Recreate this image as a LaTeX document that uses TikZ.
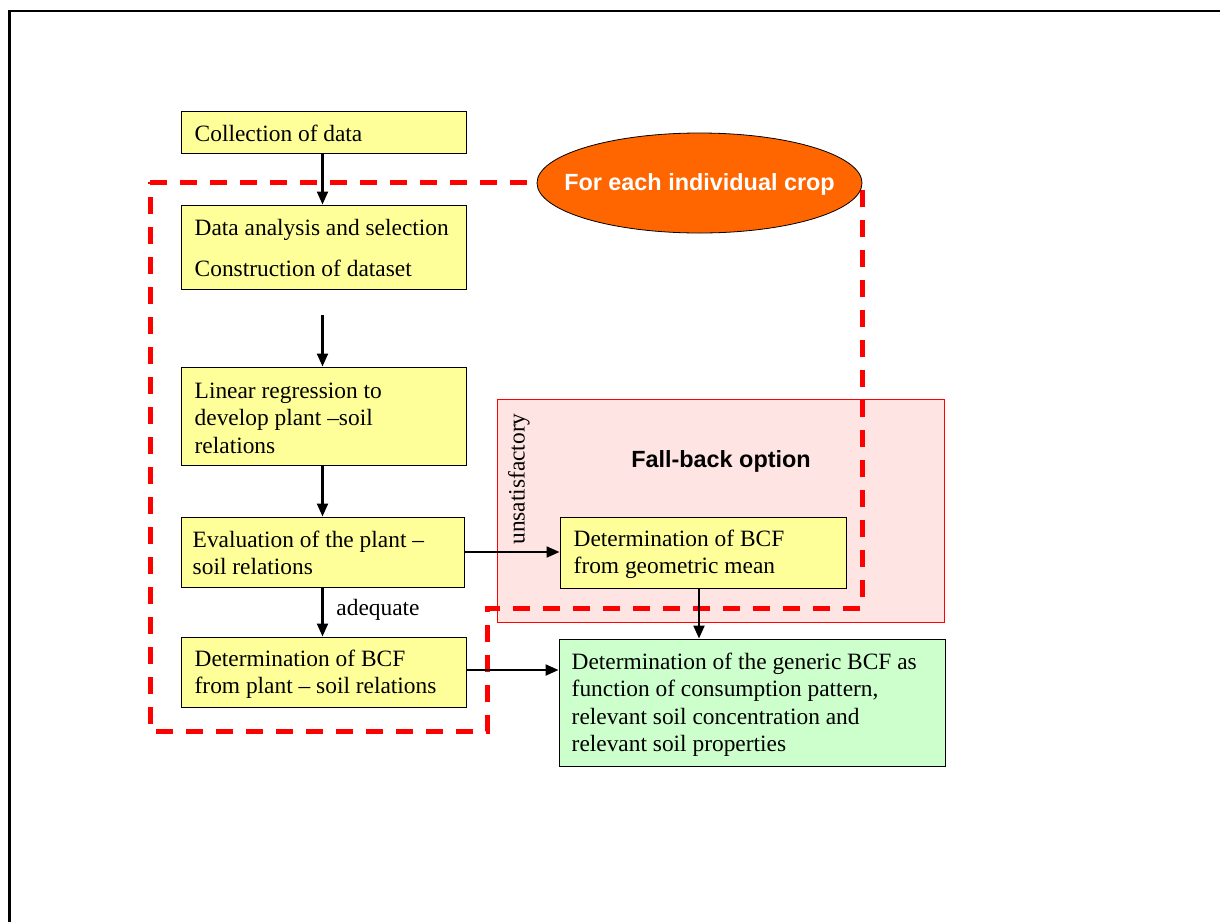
\documentclass[tikz,border=0pt]{standalone}
\usepackage{fontspec}
\setmainfont{Liberation Serif}
\newfontfamily\arialfont{Liberation Sans}
\usetikzlibrary{arrows.meta,shapes.geometric}
\definecolor{boxyellow}{RGB}{255,255,153}
\definecolor{boxgreen}{RGB}{204,255,204}
\definecolor{ovalorange}{RGB}{255,102,0}
\definecolor{fbpink}{RGB}{255,228,228}
\definecolor{dashred}{RGB}{255,0,0}
\begin{document}
\begin{tikzpicture}[x=1pt,y=-1pt,
  stepbox/.style={draw=black, line width=1pt, fill=boxyellow, rectangle, inner sep=0pt},
  greenbox/.style={stepbox, fill=boxgreen},
  boxtext/.style={anchor=west, inner sep=0pt, align=left,
    font=\fontsize{23.4}{27.5}\selectfont},
  flow/.style={line width=2.2pt, -{Triangle[length=13pt,width=11pt]}},
  lbl/.style={inner sep=0pt, font=\fontsize{23.4}{27.5}\selectfont},
  headlbl/.style={inner sep=0pt, font=\arialfont\bfseries\fontsize{23.4}{27.5}\selectfont},
  cropdash/.style={draw=dashred, line width=5pt, dash pattern=on 17pt off 13pt, line join=miter},
]
\useasboundingbox (0,0) rectangle (1220,922);
\fill[white] (0,0) rectangle (1220,922);
% outer frame
\draw[line width=2.8pt] (9.5,922) -- (9.5,11) -- (1220,11);

% fall-back area
\node[draw=red, line width=1.2pt, fill=fbpink, rectangle, inner sep=0pt,
      minimum width=447, minimum height=223] (fallback) at (721,511) {};
\node[headlbl] (fbtitle) at (721,461) {Fall-back option};

% dashed "for each crop" boundary
\draw[cropdash] (150,182) -- (862,182) -- (862,608) -- (487,608) -- (487,731) -- (150,731) -- cycle;

% ellipse
\node[ellipse, draw=black, line width=0.8pt, fill=ovalorange, inner sep=0pt,
      minimum width=325, minimum height=100] (crop) at (699.5,183) {};
\node[headlbl, text=white] (croptext) at ([yshift=-1.5pt]crop.center) {For each individual crop};

% boxes
\node[stepbox, minimum width=285, minimum height=42] (collect) at (323.5,132) {};
\node[boxtext] (collectT) at ([xshift=14pt,yshift=-1pt]collect.west) {Collection of data};

\node[stepbox, minimum width=285, minimum height=84] (analysis) at (323.5,247) {};
\node[boxtext] (analysisT) at ([xshift=14pt,yshift=-1pt]analysis.west)
  {Data analysis and selection\\[14pt]Construction of dataset};

\node[stepbox, minimum width=285, minimum height=98] (regress) at (323.5,416) {};
\node[boxtext] (regressT) at ([xshift=14pt,yshift=-2pt]regress.west)
  {Linear regression to\\develop plant --soil\\relations};

\node[stepbox, minimum width=283, minimum height=70] (evaluate) at (322.5,552) {};
\node[boxtext] (evaluateT) at ([xshift=12pt,yshift=-1pt]evaluate.west)
  {Evaluation of the plant --\\soil relations};

\node[stepbox, minimum width=285, minimum height=70] (bcfplant) at (323.5,672) {};
\node[boxtext] (bcfplantT) at ([xshift=14pt,yshift=-2pt]bcfplant.west)
  {Determination of BCF\\from plant -- soil relations};

\node[stepbox, minimum width=286, minimum height=71] (bcfgeo) at (703,552.5) {};
\node[boxtext] (bcfgeoT) at ([xshift=14pt,yshift=-2pt]bcfgeo.west)
  {Determination of BCF\\from geometric mean};

\node[greenbox, minimum width=386, minimum height=127] (generic) at (752,702.5) {};
\node[boxtext] (genericT) at ([xshift=13pt,yshift=-2pt]generic.west)
  {Determination of the generic BCF as\\function of consumption pattern,\\relevant soil concentration and\\relevant soil properties};

% labels
\node[lbl, rotate=90] (unsat) at (519,479) {unsatisfactory};
\node[lbl] (adequate) at (378,610) {adequate};

% connectors
\coordinate (gapstart) at (322.5,315);
\draw[flow] (collect.south -| gapstart) -- (analysis.north -| gapstart);
\draw[flow] (gapstart) -- (regress.north -| gapstart);
\draw[flow] (regress.south -| gapstart) -- (evaluate.north -| gapstart);
\draw[flow] (evaluate.south -| gapstart) -- (bcfplant.north -| gapstart);
\draw[flow] (evaluate.east) -- (evaluate.east -| bcfgeo.west);
\coordinate (geox) at (699,600);
\draw[flow] (bcfgeo.south -| geox) -- (generic.north -| geox);
\coordinate (planty) at (500,670);
\draw[flow] (bcfplant.east |- planty) -- (generic.west |- planty);
\end{tikzpicture}
\end{document}
